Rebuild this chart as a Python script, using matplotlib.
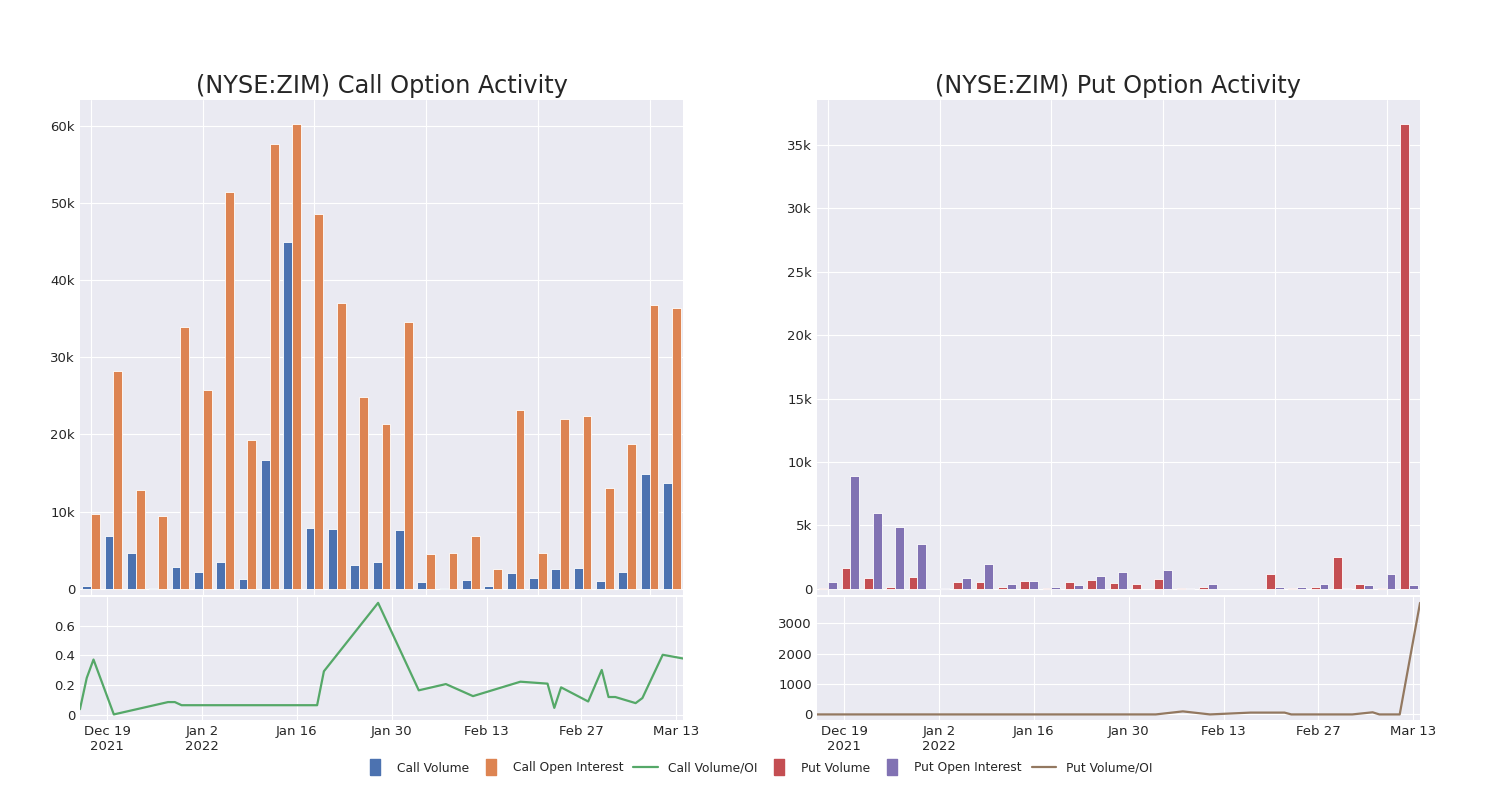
import matplotlib
matplotlib.use("Agg")
import matplotlib.pyplot as plt
import matplotlib.ticker as mticker
from matplotlib.lines import Line2D
import numpy as np
import pandas as pd

# bar groups (27 sessions, evenly spaced)
call_volume = [300, 6900, 4700, 50, 2840, 2200, 3530, 1250, 16680, 44960, 7930, 7700, 3100, 3500,
               7600, 860, 130, 1160, 340, 2070, 1340, 2590, 2720, 1030, 2160, 14830, 13700]
call_oi = [9660, 28200, 12760, 9480, 33970, 25700, 51470, 19270, 57600, 60200, 48500, 37070, 24800, 21400,
           34600, 4570, 4660, 6800, 2540, 23150, 4660, 21980, 22400, 13000, 18700, 36800, 36400]
put_volume = [80, 1600, 870, 130, 920, 20, 550, 550, 130, 580, 30, 500, 660, 470,
              390, 790, 30, 130, 10, 10, 1130, 30, 180, 2490, 390, 80, 36650]
put_oi = [520, 8860, 5950, 4900, 3510, 50, 870, 1970, 370, 580, 180, 290, 1000, 1360,
          0, 1490, 30, 370, 20, 20, 130, 130, 390, 50, 310, 1130, 260]

# volume / open interest ratio lines
call_ratio_dates = ["2021-12-15", "2021-12-16", "2021-12-17", "2021-12-20", "2021-12-28", "2021-12-29",
                    "2021-12-30", "2022-01-19", "2022-01-20", "2022-01-28", "2022-02-03", "2022-02-07",
                    "2022-02-11", "2022-02-18", "2022-02-22", "2022-02-23", "2022-02-24", "2022-02-28",
                    "2022-03-02", "2022-03-03", "2022-03-04", "2022-03-07", "2022-03-08", "2022-03-11",
                    "2022-03-14"]
call_ratio = [0.038, 0.248, 0.372, 0.003, 0.086, 0.086, 0.065, 0.065, 0.293, 0.753, 0.165, 0.207,
              0.126, 0.223, 0.21, 0.047, 0.185, 0.09, 0.302, 0.12, 0.12, 0.079, 0.113, 0.404, 0.379]
put_ratio_dates = ["2021-12-15", "2022-02-03", "2022-02-07", "2022-02-11", "2022-02-17", "2022-02-22",
                   "2022-02-23", "2022-03-04", "2022-03-07", "2022-03-08", "2022-03-11", "2022-03-14"]
put_ratio = [0, 0, 100, 0, 60, 60, 0, 0, 70, 0, 0, 3665]

tick_dates = ["2021-12-19", "2022-01-02", "2022-01-16", "2022-01-30", "2022-02-13", "2022-02-27", "2022-03-13"]
tick_labels = ["Dec 19\n2021", "Jan 2\n2022", "Jan 16", "Jan 30", "Feb 13", "Feb 27", "Mar 13"]

plt.style.use("seaborn-v0_8-darkgrid")
plt.rcParams["font.family"] = ["DejaVu Sans"]
blue, orange, green, red, purple, brown = "#4C72B0", "#DD8452", "#55A868", "#C44E52", "#8172B3", "#937860"

fig = plt.figure(figsize=(15, 8), dpi=100)
gs = fig.add_gridspec(2, 2, height_ratios=[496, 123], left=0.0533, right=0.9467,
                      top=0.875, bottom=0.1, wspace=0.222, hspace=0.008)


def k_fmt(v, pos):
    return "0" if v == 0 else "%dk" % round(v / 1000)


def bar_panel(ax, a, b, ca, cb, title, step):
    x = np.arange(len(a))
    ax.bar(x - 0.2, a, width=0.4, color=ca, edgecolor="white", linewidth=0.6)
    ax.bar(x + 0.2, b, width=0.4, color=cb, edgecolor="white", linewidth=0.6)
    top = max(max(a), max(b))
    ax.set_xlim(-0.5, len(a) - 0.5)
    ax.set_ylim(-0.013 * top, 1.052 * top)
    ax.xaxis.set_major_locator(mticker.MultipleLocator(5))
    ax.yaxis.set_major_locator(mticker.MultipleLocator(step))
    ax.yaxis.set_major_formatter(mticker.FuncFormatter(k_fmt))
    ax.tick_params(axis="x", labelbottom=False, length=0)
    ax.tick_params(axis="y", labelsize=9.5, length=0, colors="#262626")
    ax.set_title(title, fontsize=17.3, color="#262626", pad=5)


def line_panel(ax, dates, vals, color):
    d = pd.to_datetime(dates)
    ax.plot(d, vals, color=color, linewidth=1.6)
    ax.set_xlim(d[0], d[-1])
    ax.set_xticks(pd.to_datetime(tick_dates))
    ax.set_xticklabels(tick_labels)
    ax.tick_params(labelsize=9.5, length=0, colors="#262626")


ax1 = fig.add_subplot(gs[0, 0])
bar_panel(ax1, call_volume, call_oi, blue, orange, "(NYSE:ZIM) Call Option Activity", 10000)
ax2 = fig.add_subplot(gs[1, 0])
line_panel(ax2, call_ratio_dates, call_ratio, green)
ax2.yaxis.set_major_locator(mticker.MultipleLocator(0.2))
ax2.yaxis.set_major_formatter(mticker.FuncFormatter(lambda v, p: "0" if v == 0 else "%.1f" % v))

ax3 = fig.add_subplot(gs[0, 1])
bar_panel(ax3, put_volume, put_oi, red, purple, "(NYSE:ZIM) Put Option Activity", 5000)
ax4 = fig.add_subplot(gs[1, 1])
line_panel(ax4, put_ratio_dates, put_ratio, brown)
ax4.yaxis.set_major_locator(mticker.MultipleLocator(1000))

# narrow upright rectangle for the bar entries
rect = [(-0.32, -0.5), (0.32, -0.5), (0.32, 0.5), (-0.32, 0.5), (-0.32, -0.5)]
handles = [
    Line2D([], [], marker=rect, linestyle="none", color=blue, markersize=11),
    Line2D([], [], marker=rect, linestyle="none", color=orange, markersize=11),
    Line2D([], [], color=green, linewidth=1.6),
    Line2D([], [], marker=rect, linestyle="none", color=red, markersize=11),
    Line2D([], [], marker=rect, linestyle="none", color=purple, markersize=11),
    Line2D([], [], color=brown, linewidth=1.6),
]
labels = ["Call Volume", "Call Open Interest", "Call Volume/OI", "Put Volume", "Put Open Interest", "Put Volume/OI"]
fig.legend(handles, labels, loc="center", bbox_to_anchor=(0.505, 0.04), ncol=6, frameon=False,
           fontsize=8.8, columnspacing=0.8, handlelength=2.0, handletextpad=0.8)

fig.savefig("out.png", dpi=100)
